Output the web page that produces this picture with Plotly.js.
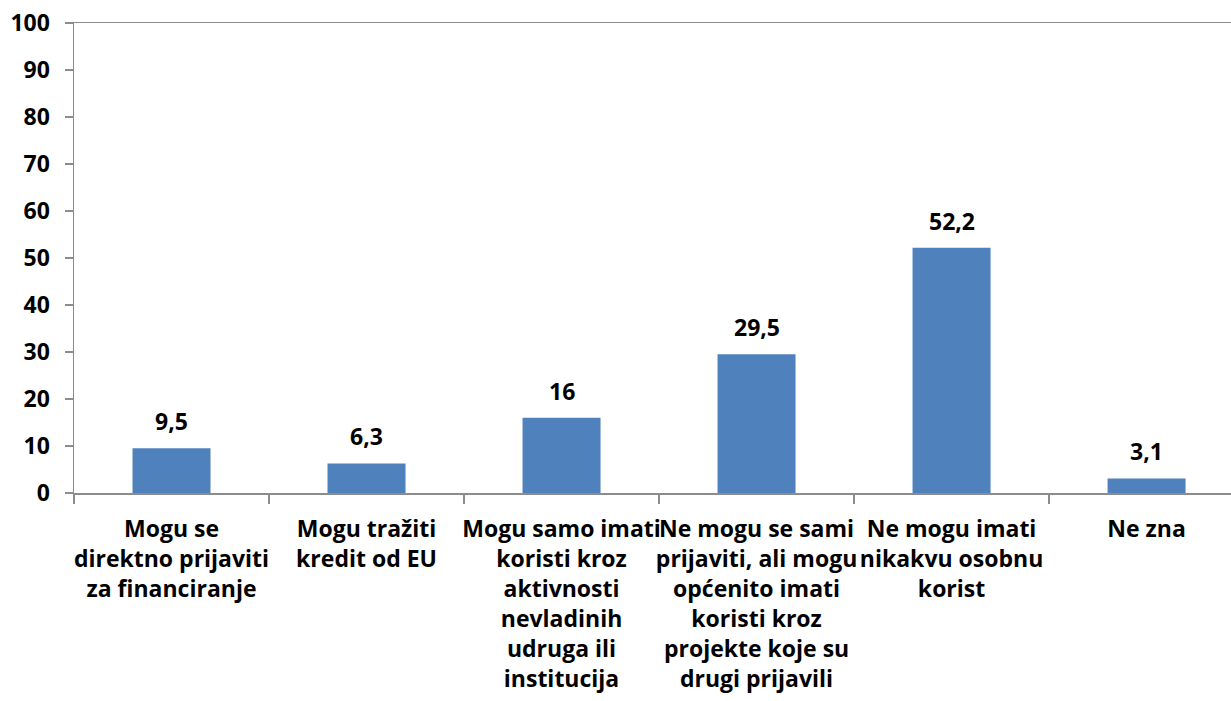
<!DOCTYPE html>
<html>
<head>
<meta charset="utf-8">
<script src="https://cdn.plot.ly/plotly-3.0.1.min.js"></script>
<style>html,body{margin:0;padding:0;background:#fff;overflow:hidden}</style>
</head>
<body>
<div id="chart" style="width:1231px;height:701px"></div>
<script>
const categories = [
  "Mogu se<br>direktno prijaviti<br>za financiranje",
  "Mogu tražiti<br>kredit od EU",
  "Mogu samo imati<br>koristi kroz<br>aktivnosti<br>nevladinih<br>udruga ili<br>institucija",
  "Ne mogu se sami<br>prijaviti, ali mogu<br>općenito imati<br>koristi kroz<br>projekte koje su<br>drugi prijavili",
  "Ne mogu imati<br>nikakvu osobnu<br>korist",
  "Ne zna"
];
const values = [9.5, 6.3, 16, 29.5, 52.2, 3.1];
const yTicks = [0, 10, 20, 30, 40, 50, 60, 70, 80, 90, 100];

const FONT = "'Open Sans', Lato, sans-serif";
const labels = values.map(v => String(v).replace('.', ','));

const trace = {
  type: 'bar',
  x: categories,
  y: values,
  marker: {color: '#4F81BD', line: {width: 0}},
  hoverinfo: 'none'
};

const annotations = categories.map((c, i) => ({
  x: c, y: values[i], xref: 'x', yref: 'y',
  text: labels[i], showarrow: false,
  yanchor: 'bottom', xanchor: 'center', yshift: 9,
  font: {family: FONT, size: 23, color: '#000', weight: 'bold'}
}));

const layout = {
  width: 1231, height: 701,
  margin: {l: 74, r: 0, t: 23, b: 208, pad: 0},
  paper_bgcolor: '#fff', plot_bgcolor: '#fff',
  showlegend: false,
  bargap: 0.6,
  annotations: annotations,
  font: {family: FONT, size: 22, color: '#000', weight: 'bold'},
  xaxis: {
    type: 'category',
    range: [-0.5, 5.433],
    showgrid: false,
    showline: true, linecolor: '#8c8c8c', linewidth: 1.5,
    mirror: true,
    ticks: 'outside', ticklen: 9, tickcolor: '#8c8c8c', tickwidth: 1.5,
    tickson: 'boundaries',
    tickangle: 0,
    ticklabelstandoff: 15,
    automargin: false,
    tickfont: {family: FONT, size: 23, color: '#000', weight: 'bold'}
  },
  yaxis: {
    range: [0, 100],
    tickvals: yTicks,
    ticktext: yTicks.map(String),
    showgrid: false,
    zeroline: false,
    showline: true, linecolor: '#8c8c8c', linewidth: 1.5,
    ticks: 'outside', ticklen: 8, tickcolor: '#8c8c8c', tickwidth: 1.5,
    ticklabelstandoff: 10,
    automargin: false,
    tickfont: {family: FONT, size: 23, color: '#000', weight: 'bold'}
  }
};

Plotly.newPlot('chart', [trace], layout, {displayModeBar: false, staticPlot: true});
</script>
</body>
</html>
